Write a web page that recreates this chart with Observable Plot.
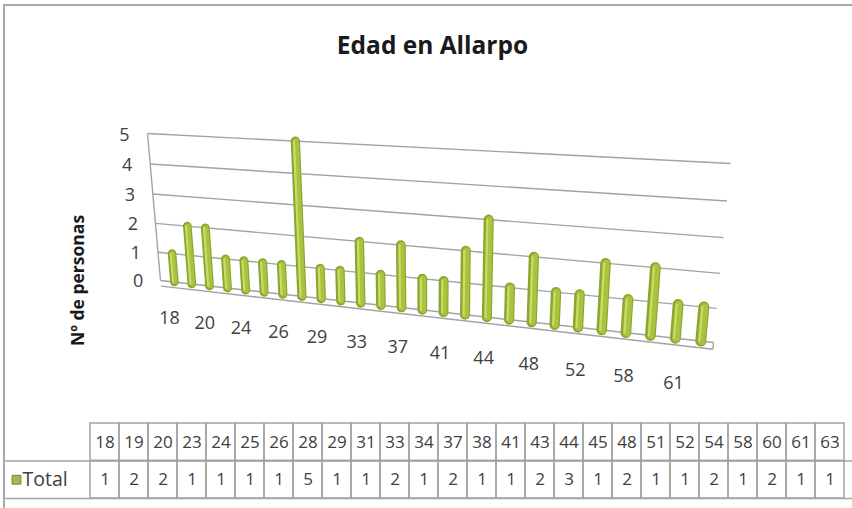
<!DOCTYPE html>
<html><head><meta charset="utf-8">
<script src="https://cdn.jsdelivr.net/npm/d3@7"></script>
<script src="https://cdn.jsdelivr.net/npm/@observablehq/plot@0.6"></script>
<style>
body{margin:0;background:#fff;}
#wrap{position:relative;width:852px;height:508px;overflow:hidden;background:#fff;}
#chart,#table{position:absolute;left:0;}
#chart{top:0}
#table{top:420px}
.fl{position:absolute;background:#a8a8a8;}
</style></head><body>
<div id="wrap"><div id="chart"></div><div id="table"></div>
<div class="fl" style="left:3px;top:4px;width:2px;height:504px"></div>
<div class="fl" style="left:3px;top:4px;width:849px;height:2px"></div>
</div>
<script>
const titulo = "Edad en Allarpo";
const ejeY = "Nº de personas";
const serie = "Total";
const edades = ["18","19","20","23","24","25","26","28","29","31","33","34","37","38","41","43","44","45","48","51","52","54","58","60","61","63"];
const personas = [1,2,2,1,1,1,1,5,1,1,2,1,2,1,1,2,3,1,2,1,1,2,1,2,1,1];
const ticksY = [0,1,2,3,4,5];
const etiquetasX = ["18","20","24","26","29","33","37","41","44","48","52","58","61"];

const rows = edades.map((e,i)=>({edad:e, n:personas[i]}));

// Plot scales mapping data into the normalized wall plane (0..1)
const xs = Plot.scale({x:{type:"point", domain: edades, range:[0.008,1.004], padding:0.6}});
const xl = Plot.scale({x:{type:"point", domain: edades, range:[-0.0106,1.008], padding:0.6}});
const ys = Plot.scale({y:{type:"linear", domain:[0,5], range:[0,1]}});

// perspective of the 3D wall: unit square -> quad (pixels)
function homography([x0,y0],[x1,y1],[x2,y2],[x3,y3]){
  const dx1=x1-x2, dx2=x3-x2, dx3=x0-x1+x2-x3;
  const dy1=y1-y2, dy2=y3-y2, dy3=y0-y1+y2-y3;
  const den=dx1*dy2-dx2*dy1;
  const g=(dx3*dy2-dx2*dy3)/den, h=(dx1*dy3-dx3*dy1)/den;
  const a=x1-x0+g*x1, b=x3-x0+h*x3, c=x0;
  const d=y1-y0+g*y1, e=y3-y0+h*y3, f=y0;
  return (s,t)=>{const w=g*s+h*t+1; return [(a*s+b*t+c)/w,(d*s+e*t+f)/w];};
}
const H = homography([160,280],[713,342],[730,163],[147,133]);
const proj = d3.geoTransform({point(u,v){const p=H(u, ys.apply(v)); this.stream.point(p[0],p[1]);}});

const grid = "#a3a3a3";
const ux = d => xs.apply(d.edad);
const bw = d => 8.5 + 2.5*xs.apply(d.edad);

const chart = Plot.plot({
  width:852, height:420, margin:0,
  projection: proj,
  style:{fontFamily:"'Open Sans', sans-serif", background:"transparent", color:"#404040"},
  marks:[
    Plot.link(ticksY, {x1:0, y1:d=>d, x2:1, y2:d=>d, stroke:grid, strokeWidth:1.4}),
    Plot.link([0], {x1:0, y1:0, x2:0, y2:5, stroke:grid, strokeWidth:1.4}),
    Plot.link([0], {x1:0, y1:-0.2, x2:1, y2:-0.2, stroke:grid, strokeWidth:1.4}),
    Plot.link([0], {x1:1, y1:0, x2:1, y2:-0.2, stroke:grid, strokeWidth:1.4}),
    Plot.link(rows, {x1:ux, y1:0, x2:ux, y2:"n", stroke:"#8aa62e", strokeWidth:bw, strokeLinecap:"round"}),
    Plot.link(rows, {x1:ux, y1:0, x2:ux, y2:"n", stroke:"#a8c43e", strokeWidth:d=>bw(d)-3.5, dx:0.6, strokeLinecap:"round"}),
    Plot.link(rows, {x1:ux, y1:0, x2:ux, y2:"n", stroke:"#c7dc6a", strokeWidth:2.2, dx:-1.4, strokeLinecap:"round"}),
    Plot.text(ticksY, {x:-0.05, y:d=>d, dy:3, fontSize:18, fill:"#404040"}),
    Plot.text(etiquetasX, {x:d=>xl.apply(d), y:-1.35, fontSize:18, fill:"#404040"}),
    Plot.text([titulo], {frameAnchor:"top", dx:6, dy:36, fontSize:24.5, fontWeight:"bold", fill:"#1a1a1a"}),
    Plot.text([ejeY], {frameAnchor:"top-left", textAnchor:"middle", dx:71, dy:280, rotate:-90, fontSize:17.5, fontWeight:"bold", fill:"#1a1a1a"})
  ]
});
document.getElementById("chart").appendChild(chart);

const table = Plot.plot({
  width:852, height:88, marginLeft:4, marginRight:0, marginTop:3, marginBottom:10,
  x:{type:"band", domain:edades, range:[79.3, 854.9], padding:0, axis:null},
  y:{domain:[0,2], range:[3,78], axis:null},
  style:{fontFamily:"'Open Sans', sans-serif", background:"transparent", color:"#404040"},
  marks:[
    Plot.ruleY([1,2], {stroke:grid, strokeWidth:1.5}),
    Plot.barY(edades, {x:d=>d, y1:0, y2:1, fill:"none", stroke:grid, strokeWidth:1.5}),
    Plot.barY(rows, {x:"edad", y1:1, y2:2, fill:"none", stroke:grid, strokeWidth:1.5}),
    Plot.text(edades, {x:d=>d, y:0.5, fontSize:17, fill:"#404040"}),
    Plot.text(rows, {x:"edad", y:1.5, text:d=>String(d.n), fontSize:17, fill:"#404040"}),
    Plot.dot([serie], {frameAnchor:"left", dx:12, y:1.5, symbol:"square", r:5, fill:"#9bbb59", stroke:"#6f8a35", strokeWidth:1}),
    Plot.text([serie], {frameAnchor:"left", dx:18, y:1.5, textAnchor:"start", fontSize:19.5, fill:"#404040"})
  ]
});
document.getElementById("table").appendChild(table);
</script>
</body></html>
